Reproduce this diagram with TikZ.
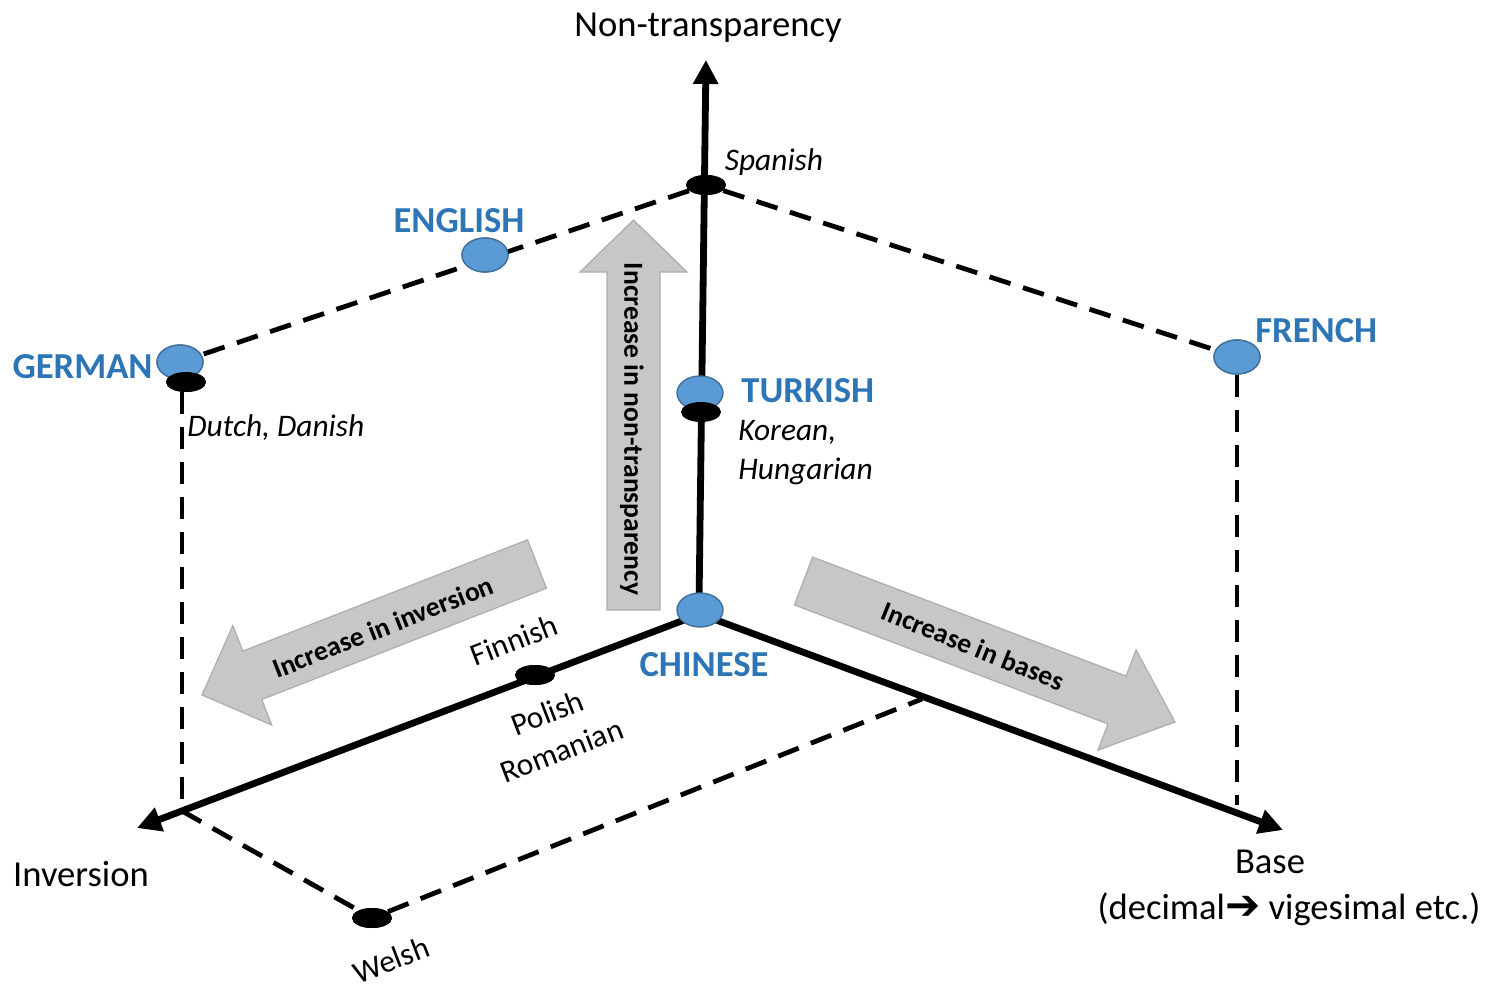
\documentclass[tikz,border=0pt]{standalone}
\usepackage{fontspec}
\setmainfont{Carlito}
\newfontfamily\symfont{DejaVu Sans}
\usepackage{tikz}
\usetikzlibrary{arrows.meta}
\usetikzlibrary{calc}
\usetikzlibrary{shapes.geometric}

\definecolor{langfill}{RGB}{91,155,213}
\definecolor{langline}{RGB}{65,113,156}
\definecolor{langtext}{RGB}{46,117,182}

\tikzset{
    lang/.style={ellipse, fill=langfill, draw=langline, line width=0.7pt, minimum width=23pt, minimum height=17pt, inner sep=0pt},
    sub/.style={ellipse, fill=black, minimum width=20pt, minimum height=10pt, inner sep=0pt},
    axis/.style={line width=3.4pt, -{Triangle[length=12pt, width=12pt]}},
    proj/.style={line width=2.4pt, dash pattern=on 11pt off 6.5pt},
    langname/.style={text=langtext, font=\bfseries\fontsize{18.3}{20}\selectfont, inner sep=0pt},
    sample/.style={font=\itshape\fontsize{15.7}{19.5}\selectfont, inner sep=0pt},
    plain/.style={font=\fontsize{15.7}{19.5}\selectfont, inner sep=0pt},
    axisname/.style={font=\fontsize{18.3}{20}\selectfont, inner sep=0pt},
    trend/.style={font=\bfseries\fontsize{13.8}{15}\selectfont, inner sep=0pt},
}

% #1 tail, #2 tip, #3 half shaft, #4 half head, #5 head length
\newcommand{\grayarrow}[5]{
    \coordinate (hb) at ($(#2)!#5!(#1)$);
    \fill[black!22, draw=black!32, line width=0.6pt]
        ($(#1)!#3!90:(#2)$) -- ($(hb)!#3!-90:(#1)$) -- ($(hb)!#4!-90:(#1)$) -- (#2)
        -- ($(hb)!#4!90:(#1)$) -- ($(hb)!#3!90:(#1)$) -- ($(#1)!#3!-90:(#2)$) -- cycle;
}

\begin{document}
\begin{tikzpicture}[x=0.5pt, y=-0.5pt]
    \useasboundingbox (0,0) rectangle (1490,991);

    % axes
    \coordinate (origin) at (700,614);
    \coordinate (top) at (706,60);
    \coordinate (invend) at (137,828);
    \coordinate (baseend) at (1283,830);
    \coordinate (invfoot) at (182,811);
    \coordinate (basefoot) at (1237,805);
    \coordinate (basemid) at (922,699);

    % gray trend arrows
    \coordinate (uptail) at (633.5,610);
    \coordinate (uptip) at (633.5,220);
    \grayarrow{uptail}{uptip}{13.25pt}{26.75pt}{26pt}
    \coordinate (invtail) at (537,564);
    \coordinate (invtip) at (202,695);
    \grayarrow{invtail}{invtip}{13pt}{26.7pt}{27pt}
    \coordinate (bastail) at (803.5,581);
    \coordinate (bastip) at (1175,722);
    \grayarrow{bastail}{bastip}{12.8pt}{26.8pt}{31pt}
    \node[trend, rotate=-90] (uptext) at (632,429) {Increase in non-transparency};
    \node[trend, rotate=21.4] (invtext) at (383,627) {Increase in inversion};
    \node[trend, rotate=-22] (bastext) at (973,646) {Increase in bases};

    % points
    \node[sub] (spanish) at (706,185) {};
    \node[lang] (english) at (485,255) {};
    \node[lang] (german) at (180,362) {};
    \node[sub] (dutch) at (186,382) {};
    \node[lang] (french) at (1237,357) {};
    \node[sub] (finnish) at (535,675) {};
    \node[sub] (welsh) at (372,918) {};

    % dashed frame
    \draw[proj] (spanish) -- (german);
    \draw[proj] (spanish) -- (french);
    \draw[proj] (dutch.south -| invfoot) -- (invfoot);
    \draw[proj] (french.south) -- (basefoot);
    \draw[proj] (invfoot) -- (welsh);
    \draw[proj] (welsh) -- (basemid);

    \draw[axis] (699,605) -- (top);
    \draw[axis] (origin) -- (invend);
    \draw[axis] (origin) -- (baseend);

    \node[sub] at (spanish) {};
    \node[lang] at (english) {};
    \node[lang] at (german) {};
    \node[sub] at (dutch) {};
    \node[lang] at (french) {};
    \node[sub] at (finnish) {};
    \node[sub] at (welsh) {};
    \node[lang] (turkish) at (700,393) {};
    \node[sub] (korean) at (701,412) {};
    \node[lang] (chinese) at (700,610) {};

    % labels
    \node[axisname] (nontrans) at (708,28) {Non-transparency};
    \node[axisname] (inversion) at (81,874) {Inversion};
    \node[axisname] (base) at (1270,862) {Base};
    \node[axisname] (basenote) at (1289,909) {(decimal{\symfont\bfseries\fontsize{21}{20}\selectfont ➔} vigesimal etc.)};

    \node[langname] at (459,221) {ENGLISH};
    \node[langname, anchor=east] at (153,367) {GERMAN};
    \node[langname, anchor=west] at (1255,331) {FRENCH};
    \node[langname, anchor=west] at (741,391) {TURKISH};
    \node[langname] at (704,665) {CHINESE};

    \node[sample] at (774,162) {Spanish};
    \node[sample, anchor=north west, align=left] at (187,414) {Dutch, Danish};
    \node[sample, anchor=north west, align=left] at (738,420) {Korean,\\Hungarian};
    \node[plain, rotate=21] at (514,640) {Finnish};
    \node[plain, rotate=21, align=center] at (554.5,731.5) {Polish\\[0.5pt]Romanian};
    \node[plain, rotate=21] at (391,960) {Welsh};
\end{tikzpicture}
\end{document}
